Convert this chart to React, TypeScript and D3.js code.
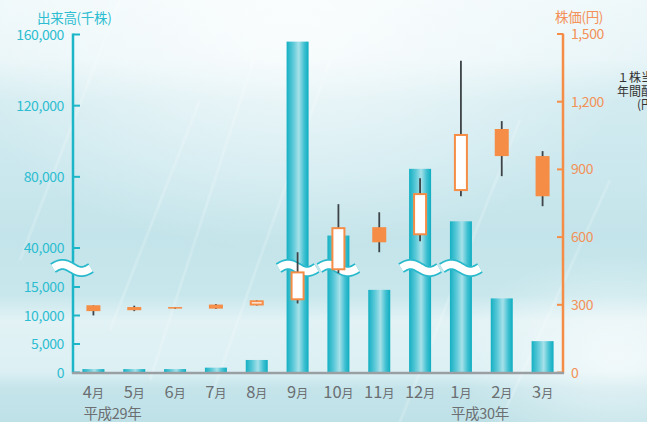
import React from "react";
import * as d3 from "d3";

// Monthly trading data (volume in thousand shares, price in yen)
const months = ["4", "5", "6", "7", "8", "9", "10", "11", "12", "1", "2", "3"];
const volume = [600, 600, 600, 850, 2200, 156000, 47000, 14500, 84500, 55000, 13000, 5500];
const openP = [298, 276, 290, 283, 297, 320, 453, 644, 608, 804, 1079, 959];
const closeP = [272, 290, 283, 301, 320, 448, 644, 577, 795, 1057, 959, 781];
const highP = [298, 296, 290, 303, 320, 533, 746, 710, 861, 1381, 1114, 981];
const lowP = [253, 272, 283, 281, 297, 306, 440, 533, 582, 781, 870, 737];

const volTicks = [0, 5000, 10000, 15000, 40000, 80000, 120000, 160000];
const priceTicks = [0, 300, 600, 900, 1200, 1500];
const yearLabels = [
  { month: "4", text: "平成29年" },
  { month: "1", text: "平成30年" },
];
const dividendLines = ["１株当たり", "年間配当金", "(円)"];
// bars that pass through the scale break
const brokenMonths = ["9", "10", "12", "1"];

const W = 647;
const H = 422;
const LEFT = 73;
const RIGHT = 563;
const BASE = 372.5;
const BREAK_Y = 268;

const CYAN = "#1db6c9";
const CYAN_TEXT = "#2dbdd0";
const ORANGE = "#f58d46";
const ORANGE_TEXT = "#f39158";
const FONT = "'Noto Sans CJK JP', 'Noto Sans', sans-serif";

const x = d3.scaleBand<string>().domain(months).range([LEFT, RIGHT]).paddingInner(0).paddingOuter(0);
// broken volume axis: 0–15,000 on a stretched lower segment, 40,000–160,000 above
const yVol = d3.scaleLinear().domain([0, 15000, 40000, 160000]).range([BASE, 287, 248, 34.5]);
const yPrice = d3.scaleLinear().domain([0, 1500]).range([BASE, 34]);

const fmt = d3.format(",");

function wavePath(cx: number, cy: number, w: number, amp: number) {
  const pts: [number, number][] = d3.range(0, 41).map((i) => {
    const t = i / 40;
    return [cx - w / 2 + t * w, cy - amp * Math.sin(2 * Math.PI * t)];
  });
  return d3.line()(pts) || "";
}

function Wave({ cx, w }: { cx: number; w: number }) {
  const d = wavePath(cx, BREAK_Y, w, 3.6);
  return (
    <g>
      <path d={d} fill="none" stroke="#29b9cc" strokeWidth={11} strokeLinecap="butt" />
      <path d={d} fill="none" stroke="#ffffff" strokeWidth={7.5} strokeLinecap="butt" />
    </g>
  );
}

export default function App() {
  const bw = 22;
  const cw = 14;
  const streaks = [
    [120, 0, 20, 260],
    [260, 40, 150, 380],
    [330, 60, 210, 400],
    [520, 120, 400, 422],
    [610, 180, 500, 422],
    [200, 100, 110, 330],
  ];
  return (
    <svg
      width={W}
      height={H}
      viewBox={`0 0 ${W} ${H}`}
      style={{ position: "absolute", left: 0, top: 0, display: "block" }}
      fontFamily={FONT}
    >
      <defs>
        <linearGradient id="bg" x1="0" y1="0" x2="0" y2="1">
          <stop offset="0" stopColor="#eef8fa" />
          <stop offset="0.14" stopColor="#e8f5f8" />
          <stop offset="0.24" stopColor="#d2ebf0" />
          <stop offset="0.4" stopColor="#cbe8ee" />
          <stop offset="0.56" stopColor="#c3e4ea" />
          <stop offset="0.7" stopColor="#c8e7ec" />
          <stop offset="0.76" stopColor="#e2f2f5" />
          <stop offset="0.88" stopColor="#dcf0f4" />
          <stop offset="0.92" stopColor="#c4e4ea" />
          <stop offset="1" stopColor="#bee1e7" />
        </linearGradient>
        <radialGradient id="glow" cx="0.45" cy="0.05" r="0.55">
          <stop offset="0" stopColor="#ffffff" stopOpacity={0.75} />
          <stop offset="1" stopColor="#ffffff" stopOpacity={0} />
        </radialGradient>
        <radialGradient id="glow2" cx="0.95" cy="0.85" r="0.25">
          <stop offset="0" stopColor="#ffffff" stopOpacity={0.6} />
          <stop offset="1" stopColor="#ffffff" stopOpacity={0} />
        </radialGradient>
        <linearGradient id="bar" x1="0" y1="0" x2="1" y2="0">
          <stop offset="0" stopColor="#14b0c3" />
          <stop offset="0.3" stopColor="#5cc9d8" />
          <stop offset="0.55" stopColor="#a6e1e9" />
          <stop offset="0.8" stopColor="#3fc0d1" />
          <stop offset="1" stopColor="#0eadc1" />
        </linearGradient>
      </defs>

      {/* backdrop */}
      <rect x={0} y={0} width={W} height={H} fill="url(#bg)" />
      <rect x={0} y={0} width={W} height={H} fill="url(#glow)" />
      <rect x={0} y={0} width={W} height={H} fill="url(#glow2)" />
      {streaks.map((s, i) => (
        <line
          key={i}
          x1={s[0]}
          y1={s[1]}
          x2={s[2]}
          y2={s[3]}
          stroke="#ffffff"
          strokeOpacity={0.18}
          strokeWidth={3}
        />
      ))}

      {/* volume bars */}
      {months.map((m, i) => {
        const cx = (x(m) as number) + x.bandwidth() / 2;
        const top = yVol(volume[i]);
        return (
          <rect key={m} x={cx - bw / 2} y={top} width={bw} height={BASE - top} fill="url(#bar)" />
        );
      })}

      {/* left axis */}
      <line x1={LEFT} y1={33.5} x2={LEFT} y2={BASE + 1} stroke={CYAN} strokeWidth={2.5} />
      {volTicks.map((t) => (
        <g key={t}>
          <line x1={LEFT} x2={LEFT + 7} y1={yVol(t)} y2={yVol(t)} stroke={CYAN} strokeWidth={2} />
          <text
            x={64}
            y={yVol(t) + 5}
            textAnchor="end"
            fontSize={14}
            fill={CYAN_TEXT}
            letterSpacing={-0.4}
          >
            {fmt(t)}
          </text>
        </g>
      ))}
      <text x={37} y={23} fontSize={13.5} fill={CYAN_TEXT} letterSpacing={-0.3}>
        出来高(千株)
      </text>

      {/* right axis */}
      <line x1={RIGHT} y1={33.5} x2={RIGHT} y2={BASE + 1} stroke={ORANGE} strokeWidth={2.5} />
      {priceTicks.map((t) => (
        <g key={t}>
          <line x1={RIGHT - 6} x2={RIGHT} y1={yPrice(t)} y2={yPrice(t)} stroke={ORANGE} strokeWidth={2} />
          <text x={571} y={yPrice(t) + 5} fontSize={14} fill={ORANGE_TEXT} letterSpacing={-0.4}>
            {fmt(t)}
          </text>
        </g>
      ))}
      <text x={555} y={21.5} fontSize={13.5} fill={ORANGE_TEXT} letterSpacing={-0.3}>
        株価(円)
      </text>

      {/* bottom axis */}
      <line x1={LEFT - 1} x2={RIGHT + 1} y1={BASE + 0.5} y2={BASE + 0.5} stroke="#9a9fa3" strokeWidth={2.5} />

      {/* scale break marks */}
      <Wave cx={72} w={38} />
      {brokenMonths.map((m) => (
        <Wave key={m} cx={(x(m) as number) + x.bandwidth() / 2} w={38} />
      ))}

      {/* candlesticks */}
      {months.map((m, i) => {
        const cx = (x(m) as number) + x.bandwidth() / 2;
        const up = closeP[i] >= openP[i];
        const yTop = yPrice(Math.max(openP[i], closeP[i]));
        const yBot = yPrice(Math.min(openP[i], closeP[i]));
        const h = Math.max(yBot - yTop, 1.5);
        return (
          <g key={m}>
            <line
              x1={cx}
              x2={cx}
              y1={yPrice(highP[i])}
              y2={yPrice(lowP[i])}
              stroke="#3d4346"
              strokeWidth={1.8}
            />
            {up ? (
              <rect
                x={cx - cw / 2 + 1}
                y={yTop + 1}
                width={cw - 2}
                height={Math.max(h - 2, 0.5)}
                fill="#ffffff"
                stroke={ORANGE}
                strokeWidth={2}
              />
            ) : (
              <rect x={cx - cw / 2} y={yTop} width={cw} height={h} fill={ORANGE} />
            )}
          </g>
        );
      })}

      {/* month labels */}
      {months.map((m) => {
        const cx = (x(m) as number) + x.bandwidth() / 2;
        return (
          <text key={m} x={cx} y={398} textAnchor="middle" fill="#6b6f72">
            <tspan fontSize={16.5}>{m}</tspan>
            <tspan fontSize={12}>月</tspan>
          </text>
        );
      })}
      {yearLabels.map((yl) => (
        <text
          key={yl.text}
          x={(x(yl.month) as number) + x.bandwidth() / 2 - 10}
          y={419}
          fontSize={14.5}
          fill="#6b6f72"
          letterSpacing={-0.3}
        >
          {yl.text}
        </text>
      ))}

      {/* dividend axis title, partly beyond the right edge */}
      <text x={647} y={82} textAnchor="middle" fontSize={12} fill="#333">
        {dividendLines.map((t, i) => (
          <tspan key={t} x={647} dy={i === 0 ? 0 : 13.5}>
            {t}
          </tspan>
        ))}
      </text>
    </svg>
  );
}
